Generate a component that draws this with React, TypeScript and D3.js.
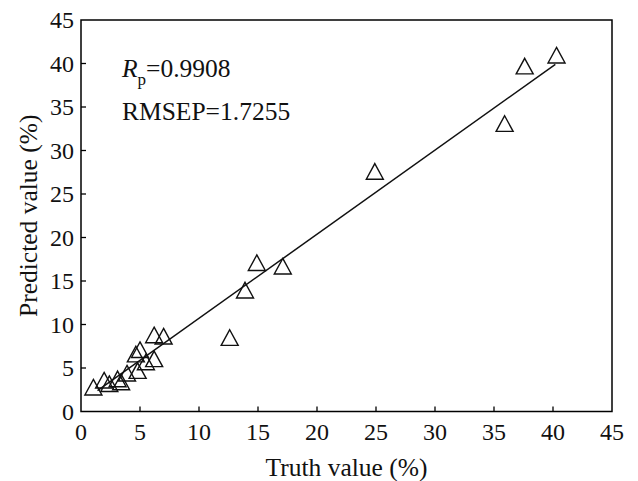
import React from "react";
import * as d3 from "d3";

const truthValues = [1.05, 1.96, 2.4, 3.1, 3.4, 3.9, 4.8, 4.65, 5.0, 5.5, 6.2, 6.2, 7.0, 12.6, 13.9, 14.9, 17.1, 24.9, 35.9, 37.6, 40.3];
const predictedValues = [2.8, 3.6, 3.2, 3.75, 3.4, 4.4, 4.7, 6.6, 7.1, 5.7, 6.05, 8.8, 8.65, 8.5, 13.95, 17.1, 16.7, 27.6, 33.1, 39.7, 40.95];
const fitX = [1.4, 40.2];
const fitY = [2.4, 39.9];
const xTicks = [0, 5, 10, 15, 20, 25, 30, 35, 40, 45];
const yTicks = [0, 5, 10, 15, 20, 25, 30, 35, 40, 45];

const W = 638, H = 481;
const M = { left: 81, right: 26, top: 20, bottom: 69.5 };
const FONT = "Liberation Serif";

export default function App() {
  const x = d3.scaleLinear().domain([0, 45]).range([M.left, W - M.right]);
  const y = d3.scaleLinear().domain([0, 45]).range([H - M.bottom, M.top]);
  const line = d3.line<number>().x((d, i) => x(fitX[i])).y((d, i) => y(fitY[i]));
  const hw = 8.5, hh = 7.8;
  const tri = (cx: number, cy: number) =>
    `M${cx},${cy - hh}L${cx + hw},${cy + hh}L${cx - hw},${cy + hh}Z`;
  const x0 = x(0), x1 = x(45), y0 = y(0), y1 = y(45);
  return (
    <svg width={W} height={H} style={{ position: "absolute", left: 0, top: 0, background: "#fff", fontFamily: FONT }}>
      <rect x={0} y={0} width={W} height={H} fill="#fff" />
      <rect x={x0} y={y1} width={x1 - x0} height={y0 - y1} fill="none" stroke="#000" strokeWidth={1.5} />
      {xTicks.map((t) => (
        <g key={"x" + t}>
          {t > 0 && t < 45 && <line x1={x(t)} x2={x(t)} y1={y0} y2={y0 - 5} stroke="#000" strokeWidth={1.3} />}
          <text x={x(t)} y={y0 + 28.5} textAnchor="middle" fontSize={24} fill="#111">{t}</text>
        </g>
      ))}
      {yTicks.map((t) => (
        <g key={"y" + t}>
          {t > 0 && t < 45 && <line x1={x0} x2={x0 + 5} y1={y(t)} y2={y(t)} stroke="#000" strokeWidth={1.3} />}
          <text x={x0 - 7} y={y(t) + 8} textAnchor="end" fontSize={24} fill="#111">{t}</text>
        </g>
      ))}
      <path d={line(fitX) || ""} fill="none" stroke="#111" strokeWidth={1.5} />
      {truthValues.map((tv, i) => (
        <path key={i} d={tri(x(tv), y(predictedValues[i]))} fill="none" stroke="#111" strokeWidth={1.4} strokeLinejoin="miter" />
      ))}
      <text x={122} y={77} fontSize={25.5} fill="#111">
        <tspan fontStyle="italic">R</tspan>
        <tspan fontSize={17} dy={8}>p</tspan>
        <tspan dy={-8}>=0.9908</tspan>
      </text>
      <text x={122} y={120} fontSize={25.5} fill="#111">RMSEP=1.7255</text>
      <text x={(x0 + x1) / 2} y={476} textAnchor="middle" fontSize={25.5} fill="#111">Truth value (%)</text>
      <text transform={`translate(37,${(y0 + y1) / 2}) rotate(-90)`} textAnchor="middle" fontSize={25.5} fill="#111">Predicted value (%)</text>
    </svg>
  );
}
